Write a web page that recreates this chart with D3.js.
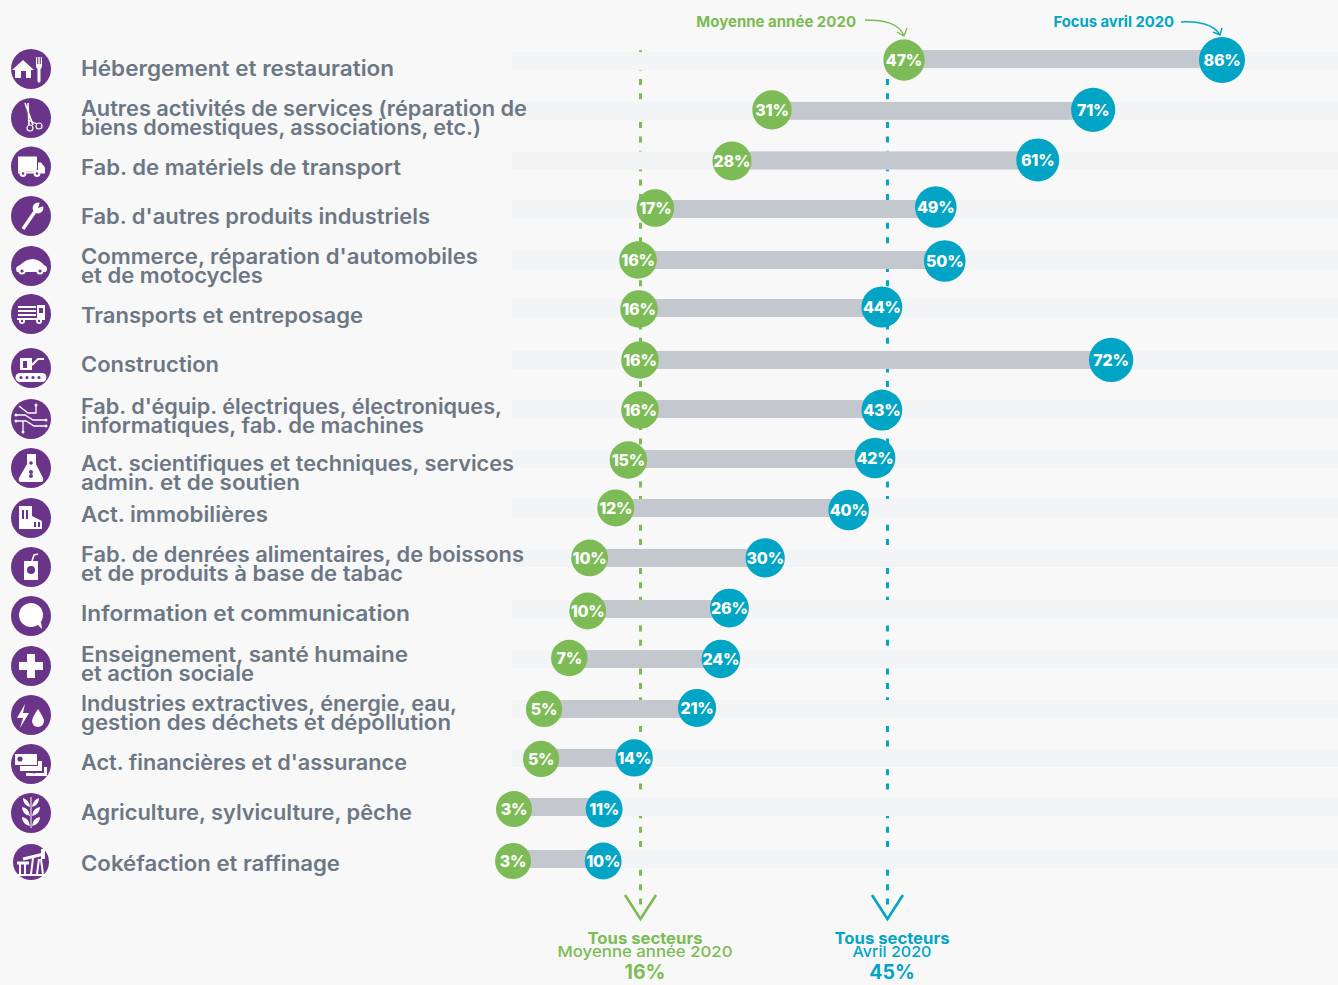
<!DOCTYPE html>
<html lang="fr">
<head>
<meta charset="utf-8">
<title>Activité partielle par secteur</title>
<script src="https://cdn.jsdelivr.net/npm/d3@7"></script>
<style>
  html, body { margin: 0; background: #f8f8f8; }
  svg { display: block; font-family: Inter, "Open Sans", sans-serif; }
  .label { fill: #6c7785; font-size: 21px; font-weight: 600; }
  .pct { fill: #fff; font-size: 16px; font-weight: 800; text-anchor: middle; letter-spacing: -0.2px; }
</style>
</head>
<body>
<svg id="chart" width="1338" height="985"></svg>
<script>
const categories = [
  'Hébergement et restauration',
  'Autres activités de services (réparation de\nbiens domestiques, associations, etc.)',
  'Fab. de matériels de transport',
  "Fab. d'autres produits industriels",
  "Commerce, réparation d'automobiles\net de motocycles",
  'Transports et entreposage',
  'Construction',
  "Fab. d'équip. électriques, électroniques,\ninformatiques, fab. de machines",
  'Act. scientifiques et techniques, services\nadmin. et de soutien',
  'Act. immobilières',
  'Fab. de denrées alimentaires, de boissons\net de produits à base de tabac',
  'Information et communication',
  'Enseignement, santé humaine\net action sociale',
  'Industries extractives, énergie, eau,\ngestion des déchets et dépollution',
  "Act. financières et d'assurance",
  'Agriculture, sylviculture, pêche',
  'Cokéfaction et raffinage',
];

// printed percentages
const yearLabels = [47, 31, 28, 17, 16, 16, 16, 16, 15, 12, 10, 10, 7, 5, 5, 3, 3];
const aprilLabels = [86, 71, 61, 49, 50, 44, 72, 43, 42, 40, 30, 26, 24, 21, 14, 11, 10];

// where the dots actually sit: the original is hand placed, so these drift a bit from the printed numbers
const yearPlotted = [47, 31.5, 26.8, 17.8, 15.8, 15.9, 16, 16, 14.8, 13.5, 10.8, 10.6, 8.7, 6.1, 5.8, 3, 2.9];
const aprilPlotted = [86, 70.2, 63.4, 50.9, 52, 44.4, 72.4, 44.4, 43.6, 40.5, 30.7, 26.5, 25.5, 22.7, 15.4, 12.3, 12.2];

const yearAverage = 16;
const aprilAverage = 45;

// layout only
const rowNudge = [-2, 0, -0.3, -1.6, -0.5, -2.4, -0.3, -1.1, -1, -1.9, -1.8, -0.6, -0.5, -0.4, -1.3, -2.1, 0];
const yearDotNudge = [1, -1, 0.5, -1, 0, 1, 0, 1, 1, 0, 0, 2, -1, 0, 1, 2, 2];
const aprilDotNudge = [1, -1, -0.5, -2, 1, -1, 0, 1, -1, 2, 0, -1, 0, -1, 0, 2, 2];
const labelBaseline = [76, 116, 175, 224, 264, 323, 372, 414, 471, 522, 562, 621, 662, 711, 770, 820, 871];
const labelWidths = [[313], [446, 400], [320], [349], [397, 182], [282], [138], [421, 343], [433, 219], [187], [443, 322],
  [329], [327, 173], [376, 370], [326], [331], [259]];
const iconCentre = [69, 118, 166.5, 216, 266, 314, 368, 419, 468, 518, 567, 616, 666, 715, 764, 813, 862];

const GREEN = '#7cbb55';
const BLUE = '#00a5c5';
const PURPLE = '#6a3488';

const svg = d3.select('#chart');

const x = d3.scaleLinear().domain([3, 16, 47, 86]).range([514, 640, 904, 1222]);
const rowScale = d3.scalePoint().domain(d3.range(categories.length)).range([61, 859]);
const rowY = (i) => rowScale(i) + rowNudge[i];
const radius = d3.scaleLinear().domain([3, 86]).range([18, 23]);

// reference lines go first, the pale bands hide them row by row
function refLine(value, colour) {
  svg.append('line')
    .attr('x1', x(value) + 0.5).attr('x2', x(value) + 0.5)
    .attr('y1', 50.2).attr('y2', 908)
    .attr('stroke', colour)
    .attr('stroke-width', 3)
    .attr('stroke-dasharray', '6 8.38');
  svg.append('path')
    .attr('d', `M${x(value) - 15},895L${x(value) + 0.5},919L${x(value) + 16},895`)
    .attr('fill', 'none')
    .attr('stroke', colour)
    .attr('stroke-width', 2.6);
}
refLine(yearAverage, GREEN);
refLine(aprilAverage, BLUE);

const rows = svg.selectAll('g.row').data(categories).join('g').attr('class', 'row');

// first band sits 2px under its bar in the original
rows.append('rect')
  .attr('x', 512).attr('width', 826)
  .attr('y', (_, i) => rowY(i) - 9 + (i === 0 ? 2 : 0)).attr('height', 18)
  .attr('fill', '#f3f4f6');

rows.append('rect')
  .attr('x', (_, i) => x(yearPlotted[i]))
  .attr('width', (_, i) => x(aprilPlotted[i]) - x(yearPlotted[i]))
  .attr('y', (_, i) => rowY(i) - 9).attr('height', 18)
  .attr('fill', '#c3c7ce');

function dots(plotted, printed, nudge, colour) {
  rows.append('circle')
    .attr('cx', (_, i) => x(plotted[i]))
    .attr('cy', (_, i) => rowY(i) + nudge[i])
    .attr('r', (_, i) => radius(printed[i]))
    .attr('fill', colour);
  rows.append('text')
    .attr('class', 'pct')
    .attr('x', (_, i) => x(plotted[i]))
    .attr('y', (_, i) => rowY(i) + nudge[i] + 6)
    .text((_, i) => `${printed[i]}%`);
}
dots(yearPlotted, yearLabels, yearDotNudge, GREEN);
dots(aprilPlotted, aprilLabels, aprilDotNudge, BLUE);

// Montserrat is not installed, so each line is stretched to the width it has in the original
rows.selectAll('text.label')
  .data((d, i) => d.split('\n').map((line, k) => ({ line, y: labelBaseline[i] + k * 19, w: labelWidths[i][k] })))
  .join('text')
  .attr('class', 'label')
  .attr('x', 81)
  .attr('y', (d) => d.y)
  .attr('textLength', (d) => d.w)
  .attr('lengthAdjust', 'spacingAndGlyphs')
  .text((d) => d.line);

// icons, drawn around the disc centre: f = white fill, s = white stroke, p = purple fill
const dot = (cx, cy, r) => `M${cx - r},${cy}a${r},${r} 0 1 0 ${2 * r},0a${r},${r} 0 1 0 ${-2 * r},0Z`;
const box = (l, t, w, h) => `M${l},${t}h${w}v${h}h${-w}Z`;
const iconShapes = [
  [['f', 'M-19,1L-8,-9L3,1H0V9H-5V2H-10V9H-16V1Z'],
   ['f', 'M5,-12h1.2v7h1.1v-7h1.4v7h1.1v-7H11v9q0,2 -1.5,3V12a1.5,1.5 0 0 1 -3,0V0Q5,-1 5,-3Z']],
  [['s', 'M-6,-15L2,7M-3,-15L-2,7', 1.6], ['s', `${dot(-1, 10, 3)}${dot(8, 8, 3)}`, 1.2], ['s', 'M-3,2L6,6', 1.2]],
  [['f', box(-13, -10, 19, 15)], ['f', 'M7,-4H10L14,1V6H7Z'],
   ['f', 'M-13,5H14V7H-13Z'], ['f', dot(-8, 7, 3.4)], ['f', dot(6, 7, 3.4)], ['p', dot(-8, 7, 1.3)], ['p', dot(6, 7, 1.3)]],
  [['s', 'M-8,13L5,-6', 3.4], ['f', dot(7, -8, 5.4)], ['p', 'M7,-8L10,-17L16,-11Z']],
  [['f', 'M-14,6Q-17,1 -11,-1Q-5,-7 2,-7Q9,-6 13,-1Q18,1 15,6Z'], ['f', dot(-9, 5, 3.6)], ['f', dot(9, 5, 3.6)],
   ['p', dot(-9, 5, 1.6)], ['p', dot(9, 5, 1.6)]],
  [['s', 'M-13,-7H5M-13,-3H5M-13,1H5', 2], ['f', box(-14, 4, 20, 2)], ['f', box(6, -9, 8, 15)], ['p', box(8, -6, 4, 5)],
   ['f', dot(-9, 7, 3)], ['f', dot(8, 7, 3)], ['p', dot(-9, 7, 1.2)], ['p', dot(8, 7, 1.2)]],
  [['f', 'M-11,5H11a4.5,4.5 0 0 1 0,9H-11a4.5,4.5 0 0 1 0,-9Z'],
   ['p', `${dot(-10, 9.5, 1.6)}${dot(-4, 9.5, 1.6)}${dot(2, 9.5, 1.6)}${dot(8, 9.5, 1.6)}`],
   ['f', box(-11, -10, 12, 12)], ['p', box(-8, -7, 4, 7)], ['s', 'M1,-3L7,-9L13,-9', 2]],
  [['s', 'M-15,-4H-6L2,1H15M-15,2H-5L3,7H15M-12,-13L-3,-6H5V-14M-8,2V13', 1.3],
   ['f', `${dot(-15, -4, 1.5)}${dot(-15, 2, 1.5)}${dot(15, 1, 1.5)}${dot(15, 7, 1.5)}${dot(5, -14, 1.5)}${dot(-8, 13, 1.5)}`]],
  [['f', 'M-4,-14H5V-4L12,10Q13,14 10,14H-10Q-13,14 -12,10L-4,-4Z'],
   ['p', `${dot(0, -5, 1.8)}${dot(0, 4, 2)}${dot(0, 8, 2)}`]],
  [['f', box(-12, -12, 13, 23)], ['f', 'M1,-2L11,3V11H1Z'],
   ['p', `${box(-9, -8, 2, 9)}${box(-5, -8, 2, 9)}${box(3, 4, 2, 5)}${box(7, 4, 2, 5)}`]],
  [['f', box(-7, -6, 14, 19)], ['p', dot(0, 3, 4)], ['s', 'M1,-6L3,-12L7,-13', 1.5]],
  [['f', dot(0, -1, 12)], ['f', 'M6,8L11,13L10,6Z']],
  [['f', 'M-4,-12H4V-4H12V4H4V12H-4V4H-12V-4H-4Z']],
  [['f', 'M-6,-11L-14,3H-8L-11,13L-2,-2H-8Z'], ['f', 'M7,-6Q13,3 13,6A6,6 0 0 1 1,6Q1,3 7,-6Z']],
  // three bills, back one first
  [['f', box(-5, 3, 21, 9)], ['p', dot(3, 8, 1.6)],
   ['p', box(-12, -4, 25, 13)], ['f', box(-11, -3, 22, 10)],
   ['p', box(-17, -11, 24, 13)], ['f', box(-16, -10, 22, 11)], ['p', dot(-11, -5, 2.6)]],
  [['s', 'M0,-16V15', 1], ['f', 'M-1,-6Q-8,-8 -8,-15Q-2,-13 -1,-6ZM1,-6Q8,-8 8,-15Q2,-13 1,-6Z'],
   ['f', 'M-1,3Q-9,1 -9,-6Q-2,-5 -1,3ZM1,3Q9,1 9,-6Q2,-5 1,3Z'],
   ['f', 'M-1,13Q-9,11 -9,4Q-2,5 -1,13ZM1,13Q9,11 9,4Q2,5 1,13Z']],
  [['f', box(-14, 12, 28, 2)], ['s', 'M-11,12V2M-6,12V2M6,12L8,-3M12,12L10,-3', 2], ['s', 'M-14,1H-2M-8,-3L13,-8', 3],
   ['s', 'M0,12L2,-4', 2], ['f', 'M10,-13h4v10h-4Z']],
];

const icons = svg.selectAll('g.icon').data(iconShapes).join('g')
  .attr('class', 'icon')
  .attr('transform', (_, i) => `translate(31,${iconCentre[i]})`);

icons.append('circle')
  .attr('r', (_, i) => (i === categories.length - 1 ? 18 : 20))
  .attr('fill', PURPLE);

icons.selectAll('path')
  .data((d) => d)
  .join('path')
  .attr('d', (d) => d[1])
  .attr('fill', (d) => (d[0] === 's' ? 'none' : d[0] === 'p' ? PURPLE : '#fff'))
  .attr('stroke', (d) => (d[0] === 's' ? '#fff' : 'none'))
  .attr('stroke-width', (d) => d[2] || 0);

// series names with their little arrows
function seriesNote(label, textEnd, size, colour, path, head) {
  svg.append('text')
    .attr('x', textEnd).attr('y', 27)
    .attr('text-anchor', 'end')
    .attr('fill', colour)
    .attr('font-size', size).attr('font-weight', 700)
    .text(label);
  svg.append('path')
    .attr('d', path + head)
    .attr('fill', 'none')
    .attr('stroke', colour)
    .attr('stroke-width', 1.4);
}
seriesNote('Moyenne année 2020', 856, 15, GREEN, 'M865,20C884,20 899,23 904,36', 'M897,32L904,36L907,28');
seriesNote('Focus avril 2020', 1174, 14.8, BLUE, 'M1181,22C1197,21 1214,24 1220,35', 'M1213,32L1220,35L1222,28');

// totals under the reference lines
function totalBlock(cx, line2, line2Width, value, colour) {
  const block = svg.append('g').attr('text-anchor', 'middle').attr('fill', colour);
  block.append('text').attr('x', cx).attr('y', 943.5).attr('font-size', 16).attr('font-weight', 700)
    .attr('textLength', 115).attr('lengthAdjust', 'spacingAndGlyphs').text('Tous secteurs');
  block.append('text').attr('x', cx).attr('y', 957).attr('font-size', 15).attr('font-weight', 500)
    .attr('textLength', line2Width).attr('lengthAdjust', 'spacingAndGlyphs').text(line2);
  block.append('text').attr('x', cx).attr('y', 979).attr('font-size', 19.5).attr('font-weight', 700).text(`${value}%`);
}
totalBlock(645, 'Moyenne année 2020', 175, yearAverage, GREEN);
totalBlock(892, 'Avril 2020', 79, aprilAverage, BLUE);
</script>
</body>
</html>
